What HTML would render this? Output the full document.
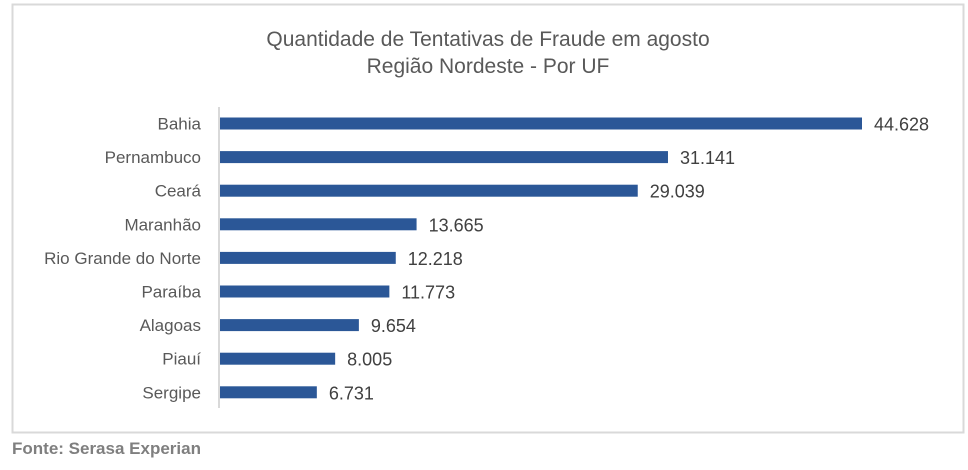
<!DOCTYPE html>
<html><head><meta charset="utf-8"><style>
body{margin:0;background:#fff;width:968px;height:465px;overflow:hidden;font-family:"Liberation Sans",sans-serif}
</style></head><body>
<svg width="968" height="465" xmlns="http://www.w3.org/2000/svg">
<rect x="12.5" y="4.5" width="951" height="428" fill="#fff" stroke="#d9d9d9" stroke-width="2"/>
<text x="488" y="46" text-anchor="middle" font-size="21" fill="#595959">Quantidade de Tentativas de Fraude em agosto</text>
<text x="488" y="73" text-anchor="middle" font-size="21" fill="#595959">Região Nordeste - Por UF</text>
<line x1="219" y1="107" x2="219" y2="408" stroke="#d9d9d9" stroke-width="2"/>
<g id="bars"></g>
<text x="12" y="454" font-size="17" font-weight="bold" fill="#7f7f7f">Fonte: Serasa Experian</text>
</svg>
<script>
const categories=["Bahia","Pernambuco","Ceará","Maranhão","Rio Grande do Norte","Paraíba","Alagoas","Piauí","Sergipe"];
const values=[44628,31141,29039,13665,12218,11773,9654,8005,6731];
const valueLabels=["44.628","31.141","29.039","13.665","12.218","11.773","9.654","8.005","6.731"];
const NS="http://www.w3.org/2000/svg";
const x0=220, xScale=v=>x0+v*(642/44628);
const yCenter=i=>123.5+i*33.6;
const g=document.getElementById('bars');
function mk(t,a){const e=document.createElementNS(NS,t);for(const k in a)e.setAttribute(k,a[k]);return e;}
categories.forEach((c,i)=>{
 const y=yCenter(i);
 const r=mk('rect',{x:x0,y:y-6,width:xScale(values[i])-x0,height:12,fill:'#2b5797'});
 
 
 g.appendChild(r);
 const l=mk('text',{x:201,y:y+6,'text-anchor':'end','font-size':17,fill:'#595959'});
 l.textContent=c;
 
 
 g.appendChild(l);
 const v=mk('text',{x:xScale(values[i])+12,y:y+7,'font-size':18,fill:'#404040'});
 v.textContent=valueLabels[i];
 
 
 g.appendChild(v);
});
</script>
</body></html>
